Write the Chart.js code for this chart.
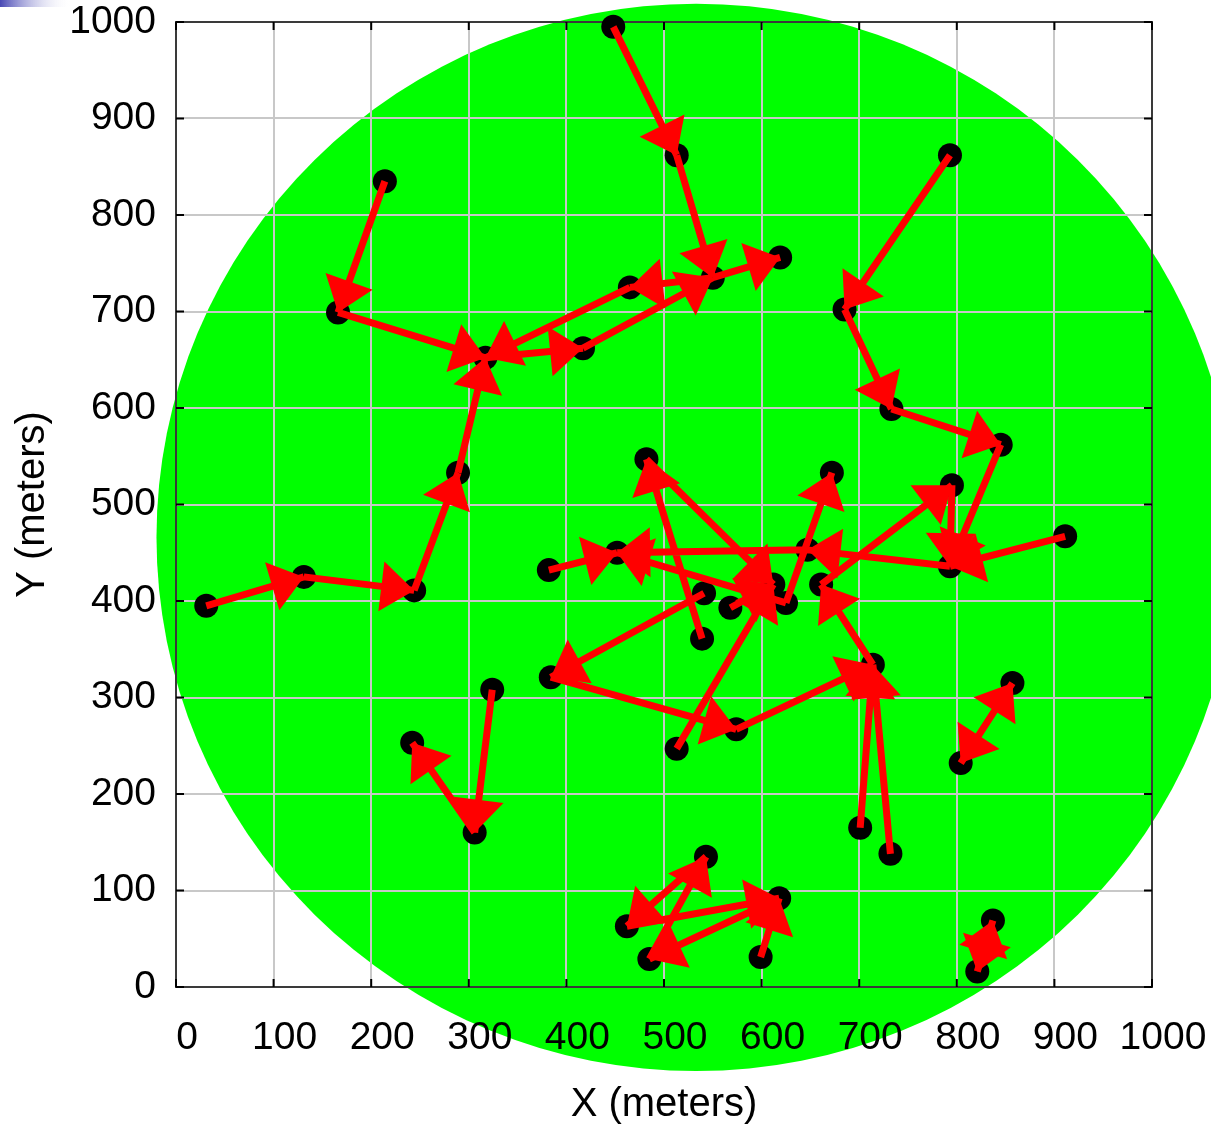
<!DOCTYPE html>
<html>
<head>
<meta charset="utf-8">
<title>Topologia</title>
<script src="https://cdn.jsdelivr.net/npm/chart.js@4.4.1/dist/chart.umd.min.js"></script>
<style>
  html, body { margin: 0; padding: 0; background: #fff; }
  #topo { display: block; }
</style>
</head>
<body>
<canvas id="topo" width="1211" height="1125"></canvas>
<script>
// ########### datos: posicion de cada nodo (metros) ###########
const nodeX = [448, 513, 550, 619, 465, 214, 166, 317, 417, 793,
               685, 733, 845, 289, 244, 131, 31, 482, 672, 795,
               793, 911, 382, 452, 539, 541, 568, 612, 625, 647,
               661, 384, 513, 574, 714, 701, 732, 324, 242, 306,
               857, 804, 543, 462, 485, 618, 599, 837, 821];
const nodeY = [995, 862, 735, 756, 725, 835, 699, 652, 662, 862,
               702, 599, 562, 533, 411, 425, 395, 547, 533, 520,
               436, 467, 432, 450, 361, 408, 393, 417, 398, 453,
               417, 321, 247, 267, 334, 165, 138, 308, 253, 160,
               315, 232, 135, 63, 29, 92, 31, 69, 16];

// enlaces origen -> destino (numero de nodo, empieza en 1)
const linkFrom = [1, 2, 3, 9, 3, 5, 7, 8, 14, 6,
                  10, 11, 12, 15, 16, 17, 13, 20, 22, 21,
                  30, 29, 23, 29, 31, 18, 25, 33, 27, 26,
                  32, 34, 36, 37, 35, 38, 40, 41, 42, 45,
                  43, 44, 46, 47, 48, 49];
const linkTo   = [2, 3, 4, 3, 5, 8, 8, 9, 8, 7,
                  11, 12, 13, 14, 15, 16, 21, 21, 21, 30,
                  24, 24, 24, 19, 20, 28, 18, 28, 28, 32,
                  34, 35, 35, 35, 31, 40, 39, 42, 41, 43,
                  44, 46, 45, 46, 49, 48];

const axisTicks = [0, 100, 200, 300, 400, 500, 600, 700, 800, 900, 1000];

// area de cobertura (circulo verde), en metros
const coverageX = 533;
const coverageY = 466;
const coverageR = 553;

// ########### armar los segmentos de los enlaces ###########
function linkPoints() {
  const pts = [];
  for (let i = 0; i < linkFrom.length; i++) {
    const a = linkFrom[i] - 1;
    const b = linkTo[i] - 1;
    pts.push({ x: nodeX[a], y: nodeY[a] });
    pts.push({ x: nodeX[b], y: nodeY[b] });
    pts.push({ x: null, y: null }); // corta la linea
  }
  return pts;
}

// ########### plugin: fondo verde, marco y puntas de flecha ###########
const topoPlugin = {
  id: "topo",
  beforeDraw(chart) {
    const { ctx, scales: { x, y } } = chart;
    ctx.save();
    // barrita de la diapositiva arriba a la izquierda
    const g = ctx.createLinearGradient(0, 0, 72, 0);
    g.addColorStop(0, "#4848b4");
    g.addColorStop(1, "rgba(255,255,255,0)");
    ctx.fillStyle = g;
    ctx.fillRect(0, 0, 72, 7);
    // circulo de cobertura
    const cx = x.getPixelForValue(coverageX);
    const cy = y.getPixelForValue(coverageY);
    const rx = x.getPixelForValue(coverageX + coverageR) - cx;
    const ry = cy - y.getPixelForValue(coverageY + coverageR);
    ctx.fillStyle = "#00ff00";
    ctx.beginPath();
    ctx.ellipse(cx, cy, rx, ry, 0, 0, Math.PI * 2);
    ctx.fill();
    ctx.restore();
  },
  beforeDatasetsDraw(chart) {
    const { ctx, chartArea: a, scales: { x, y } } = chart;
    ctx.save();
    ctx.strokeStyle = "#3a3a3a";
    ctx.lineWidth = 2;
    ctx.strokeRect(a.left, a.top, a.right - a.left, a.bottom - a.top);
    // marcas hacia adentro
    ctx.beginPath();
    axisTicks.forEach((v) => {
      const px = x.getPixelForValue(v);
      const py = y.getPixelForValue(v);
      ctx.moveTo(px, a.bottom); ctx.lineTo(px, a.bottom - 8);
      ctx.moveTo(px, a.top); ctx.lineTo(px, a.top + 8);
      ctx.moveTo(a.left, py); ctx.lineTo(a.left + 8, py);
      ctx.moveTo(a.right, py); ctx.lineTo(a.right - 8, py);
    });
    ctx.strokeStyle = "#000";
    ctx.stroke();
    ctx.restore();
  },
  afterDatasetsDraw(chart) {
    const { ctx, scales: { x, y } } = chart;
    const largo = 33;
    const ancho = 25;
    ctx.save();
    ctx.fillStyle = "#ff0000";
    for (let i = 0; i < linkFrom.length; i++) {
      const a = linkFrom[i] - 1;
      const b = linkTo[i] - 1;
      const x0 = x.getPixelForValue(nodeX[a]);
      const y0 = y.getPixelForValue(nodeY[a]);
      const x1 = x.getPixelForValue(nodeX[b]);
      const y1 = y.getPixelForValue(nodeY[b]);
      const d = Math.hypot(x1 - x0, y1 - y0) || 1;
      const ux = (x1 - x0) / d;
      const uy = (y1 - y0) / d;
      const bx = x1 - ux * largo;
      const by = y1 - uy * largo;
      ctx.beginPath();
      ctx.moveTo(x1, y1);
      ctx.lineTo(bx - uy * ancho, by + ux * ancho);
      ctx.lineTo(bx + uy * ancho, by - ux * ancho);
      ctx.closePath();
      ctx.fill();
    }
    ctx.restore();
  }
};

const fuente = "'Liberation Sans', Arial, sans-serif";

// sin relleno extra de las etiquetas, el area del grafico queda fija
function sinRelleno(s) {
  s.paddingTop = 0;
  s.paddingBottom = 0;
  s.paddingLeft = 0;
  s.paddingRight = 0;
}

const config = {
  type: "scatter",
  data: {
    datasets: [
      {
        label: "nodos",
        data: nodeX.map((v, i) => ({ x: v, y: nodeY[i] })),
        backgroundColor: "#000",
        borderWidth: 0,
        pointRadius: 12,
        pointHoverRadius: 12,
        clip: false,
        order: 2
      },
      {
        label: "enlaces",
        data: linkPoints(),
        showLine: true,
        spanGaps: false,
        borderColor: "#ff0000",
        borderWidth: 7,
        pointRadius: 0,
        pointHoverRadius: 0,
        tension: 0,
        clip: false,
        order: 1
      }
    ]
  },
  options: {
    responsive: false,
    animation: false,
    devicePixelRatio: 1,
    events: [],
    layout: { padding: { top: 22, right: 59, left: 0, bottom: 0 } },
    plugins: { legend: { display: false }, tooltip: { enabled: false } },
    scales: {
      x: {
        type: "linear",
        min: 0,
        max: 1000,
        afterBuildTicks: (s) => { s.ticks = axisTicks.map((v) => ({ value: v })); },
        afterFit: (s) => { s.height = 138; sinRelleno(s); },
        grid: { color: "#c8c8c8", lineWidth: 2, drawTicks: false },
        border: { display: false },
        ticks: { color: "#000", font: { family: fuente, size: 39 }, padding: 28, labelOffset: 11,
                 maxRotation: 0, autoSkip: false, callback: (v) => String(v) },
        title: { display: true, text: "X (meters)", color: "#000", font: { family: fuente, size: 40, lineHeight: 1 }, padding: 0 }
      },
      y: {
        type: "linear",
        min: 0,
        max: 1000,
        afterBuildTicks: (s) => { s.ticks = axisTicks.map((v) => ({ value: v })); },
        afterFit: (s) => { s.width = 176; sinRelleno(s); },
        grid: { color: "#c8c8c8", lineWidth: 2, drawTicks: false },
        border: { display: false },
        ticks: { color: "#000", font: { family: fuente, size: 39 }, padding: 20, autoSkip: false,
                 callback: (v) => String(v) },
        title: { display: true, text: "Y (meters)", color: "#000", font: { family: fuente, size: 40, lineHeight: 1 }, padding: { top: 13, bottom: 0 } }
      }
    }
  },
  plugins: [topoPlugin]
};

const myChart = new Chart(document.getElementById("topo"), config);
</script>
</body>
</html>
